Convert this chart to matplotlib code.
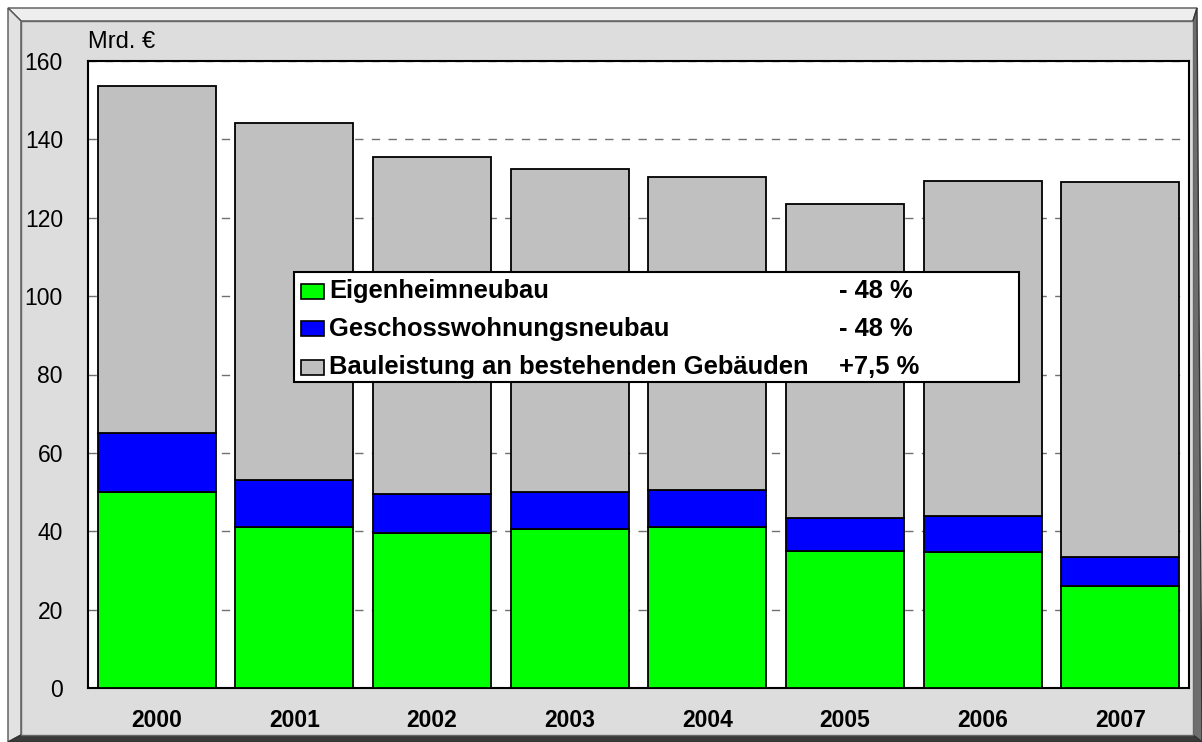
import matplotlib
matplotlib.use("Agg")
import matplotlib.pyplot as plt
from matplotlib.patches import Polygon, Rectangle

plt.rcParams['font.family'] = ['Liberation Sans', 'DejaVu Sans']

years = ['2000', '2001', '2002', '2003', '2004', '2005', '2006', '2007']
eigenheim = [50.0, 41.0, 39.5, 40.5, 41.0, 35.0, 34.8, 26.0]
geschoss = [15.0, 12.0, 10.0, 9.5, 9.5, 8.5, 9.2, 7.5]
bestand = [88.5, 91.2, 86.0, 82.5, 80.0, 80.0, 85.3, 95.5]

legend_labels = ['Eigenheimneubau', 'Geschosswohnungsneubau',
                 'Bauleistung an bestehenden Gebäuden']
legend_changes = ['- 48 %', '- 48 %', '+7,5 %']
colors = ['#00FF00', '#0000FF', '#C0C0C0']

W, H = 1202, 742
fig = plt.figure(figsize=(W / 100, H / 100), dpi=100)


def px(x, y):
    return (x / W, 1 - y / H)


def poly(pts, fc, ec='none', lw=0):
    fig.add_artist(Polygon([px(*p) for p in pts], closed=True, facecolor=fc,
                           edgecolor=ec, linewidth=lw, transform=fig.transFigure,
                           zorder=-10))


# bevelled frame round the chart
poly([(8, 8), (1197, 8), (1193, 21), (21, 21)], '#EEEEEE', '#555555', 1)
poly([(8, 8), (21, 21), (21, 735), (8, 742)], '#E2E2E2', '#555555', 1)
poly([(1197, 8), (1202, 742), (1193, 735), (1193, 21)], '#6E6E6E', '#333333', 1)
poly([(8, 742), (21, 735), (1193, 735), (1202, 742)], '#3A3A3A', '#333333', 1)
poly([(21, 21), (1193, 21), (1193, 735), (21, 735)], '#DDDDDD', '#666666', 1)

l, r, t, b = 88, 1189, 61, 688
ax = fig.add_axes([l / W, 1 - b / H, (r - l) / W, (b - t) / H])
ax.set_facecolor('white')

x = range(len(years))
bw = 0.857
bottom2 = [a + c for a, c in zip(eigenheim, geschoss)]
ax.bar(x, eigenheim, bw, color=colors[0], edgecolor='black', linewidth=1.3, zorder=3)
ax.bar(x, geschoss, bw, bottom=eigenheim, color=colors[1], edgecolor='black',
       linewidth=1.3, zorder=3)
ax.bar(x, bestand, bw, bottom=bottom2, color=colors[2], edgecolor='black',
       linewidth=1.3, zorder=3)

ax.set_xlim(-0.5, len(years) - 0.5)
ax.set_ylim(0, 160)
ax.set_yticks(range(0, 161, 20))
ax.set_xticks(list(x))
ax.set_xticklabels(years, fontsize=16.5, fontweight='bold')
ax.tick_params(axis='y', length=0, pad=18, labelsize=16.5)
ax.tick_params(axis='x', length=0, pad=15)
ax.yaxis.grid(True, linestyle=(0, (6, 6)), color='#707070', linewidth=1, zorder=1)
ax.set_axisbelow(True)
for s in ax.spines.values():
    s.set_linewidth(1.5)
    s.set_color('black')

fig.text(*px(88, 42), 'Mrd. €', fontsize=17, va='center', ha='left')

# legend box
lx0, ly0, lx1, ly1 = 294, 272, 1019, 382
fig.add_artist(Rectangle(px(lx0, ly1), (lx1 - lx0) / W, (ly1 - ly0) / H,
                         facecolor='white', edgecolor='black', linewidth=1.5,
                         transform=fig.transFigure, zorder=5))
rows = [291, 329, 367]
for yy, lab, chg, c in zip(rows, legend_labels, legend_changes, colors):
    fig.add_artist(Rectangle(px(301, yy + 7.5), 23 / W, 15 / H, facecolor=c,
                             edgecolor='black', linewidth=1.2,
                             transform=fig.transFigure, zorder=6))
    fig.text(*px(329, yy), lab, fontsize=18.4, fontweight='bold', va='center',
             ha='left', zorder=6)
    fig.text(*px(839, yy), chg, fontsize=18.4, fontweight='bold', va='center',
             ha='left', zorder=6)

fig.savefig('out.png', dpi=100)
